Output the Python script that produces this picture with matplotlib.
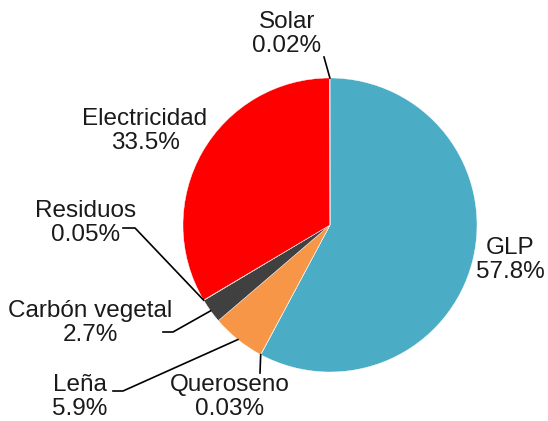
import numpy as np
import matplotlib.pyplot as plt

plt.rcParams['font.family'] = ['Liberation Sans', 'DejaVu Sans']

labels = ['GLP', 'Queroseno', 'Leña', 'Carbón vegetal', 'Residuos', 'Electricidad', 'Solar']
values = [57.8, 0.03, 5.9, 2.7, 0.05, 33.5, 0.02]
pct_text = ['57.8%', '0.03%', '5.9%', '2.7%', '0.05%', '33.5%', '0.02%']
colors = ['#4BACC6', '#7F7F7F', '#F79646', '#404040', '#A5A5A5', '#FF0000', '#FFC000']

W, H = 548, 421
cx, cy, R = 330, 225, 147


def px(x, y):
    # pixel position -> data coords of the pie axes
    return (x - cx) / R, (cy - y) / R


fig = plt.figure(figsize=(W / 100, H / 100), dpi=100)
ax = fig.add_axes([(cx - R) / W, (H - cy - R) / H, 2 * R / W, 2 * R / H])
wedges, _ = ax.pie(values, colors=colors, startangle=90, counterclock=False,
                   wedgeprops=dict(edgecolor='white', linewidth=0.3))
ax.set_xlim(-1, 1)
ax.set_ylim(-1, 1)
ax.set_aspect('equal')
ax.axis('off')

# label centres and leader line paths (text end, knee), in pixels
text_pos = {
    'GLP': (510, 260),
    'Queroseno': (230, 397),
    'Leña': (80, 397),
    'Carbón vegetal': (90, 323),
    'Residuos': (86, 223),
    'Electricidad': (145, 131),
    'Solar': (287, 34),
}
leaders = {
    'Queroseno': [(260, 373)],
    'Leña': [(113, 391), (123, 391)],
    'Carbón vegetal': [(163, 332), (173, 332)],
    'Residuos': [(123, 228), (135, 228)],
    'Solar': [(324, 57)],
}

for w, lab, pct in zip(wedges, labels, pct_text):
    tx, ty = px(*text_pos[lab])
    ax.text(tx, ty, lab + '\n' + pct, ha='center', va='center', fontsize=17.5,
            color='#1a1a1a', linespacing=1.1, clip_on=False)
    if lab in leaders:
        mid = np.deg2rad((w.theta1 + w.theta2) / 2)
        pts = [px(*p) for p in leaders[lab]] + [(np.cos(mid), np.sin(mid))]
        xs, ys = zip(*pts)
        ax.plot(xs, ys, color='black', lw=1.2, clip_on=False)

fig.savefig('out.png', dpi=100)
